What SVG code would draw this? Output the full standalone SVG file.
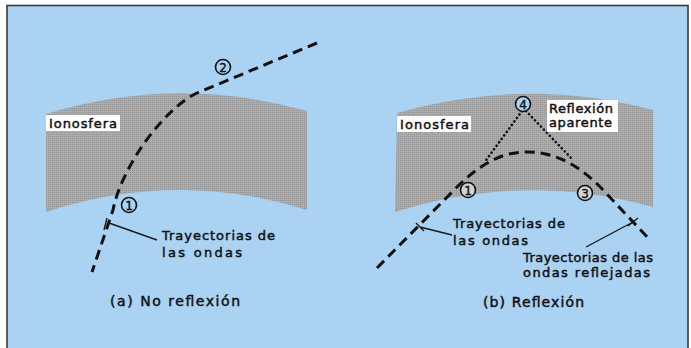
<svg xmlns="http://www.w3.org/2000/svg" width="691" height="348" viewBox="0 0 691 348">
<defs>
<pattern id="ht" width="2" height="2" patternUnits="userSpaceOnUse">
<rect width="2" height="2" fill="#adadad"/>
<rect width="1" height="1" fill="#929292"/>
</pattern>
<style>
.iono{fill:url(#ht);}
.wave{fill:none;stroke:#111;stroke-width:3;stroke-dasharray:10 6;}
.dot{fill:none;stroke:#111;stroke-width:2.6;stroke-dasharray:0.1 4.2;stroke-linecap:round;}
.lead{fill:none;stroke:#1a1a1a;stroke-width:1.4;}
.t{font-family:"DejaVu Sans","Liberation Sans",sans-serif;font-size:13px;fill:#111;stroke:#111;stroke-width:0.45;}
.cap{font-size:14px;}
.box{fill:#fff;}
.num{fill:#aad2f2;stroke:#111;stroke-width:1.6;}
.numg{fill:#d2d2d2;stroke:#111;stroke-width:1.6;}
.nt{font-family:"DejaVu Sans","Liberation Sans",sans-serif;font-size:12px;fill:#111;stroke:#111;stroke-width:0.4;text-anchor:middle;}
</style>
</defs>
<rect x="0" y="0" width="691" height="348" fill="#ffffff"/>
<rect id="frame" x="7" y="5.5" width="681" height="346" fill="#aad2f2" stroke="#3a3a3a" stroke-width="1.6"/>

<g id="iono-a">
<path class="iono" d="M46,114 Q176,74 307,111 L307,210 Q176,169 46,212 Z"/>
<rect class="box" x="46" y="115" width="74" height="16"/>
<text class="t" x="49" y="128" textLength="68" lengthAdjust="spacing">Ionosfera</text>
</g>

<g id="iono-b">
<path class="iono" d="M397,113 Q525,76 653,110 L653,207 Q524,171 395,212 Z"/>
<rect class="box" x="397" y="116" width="74" height="16"/>
<text class="t" x="400" y="129" textLength="69" lengthAdjust="spacing">Ionosfera</text>
</g>

<g id="connectors">
<path class="wave" d="M317,43 L197,93 C165,108 122,165 113,210 L92,272"/>
<path class="wave" d="M377,268 L458,186 C485,160 505,152 527,152 C555,152 580,165 605,192 L650,240"/>
<path class="dot" d="M522,111 L484,163"/>
<path class="dot" d="M526,111 L573,160"/>
<path class="lead" d="M109,223 L157,240 M107,218 L104,230"/>
<path class="lead" d="M420,227 L452,235 M416,223 L424,231"/>
<path class="lead" d="M633,222 L586,247 M628,226 L638,218"/>
</g>

<g id="n2"><circle class="num" cx="223" cy="67" r="7.5"/><text class="nt" x="223" y="71.5">2</text></g>
<g id="n1a"><circle class="num" cx="129" cy="205" r="7.5"/><text class="nt" x="129" y="209.5">1</text></g>
<g id="n1b"><circle class="numg" cx="468" cy="190" r="7.5"/><text class="nt" x="468" y="194.5">1</text></g>
<g id="n3"><circle class="numg" cx="585" cy="193" r="7.5"/><text class="nt" x="585" y="197.5">3</text></g>
<g id="n4"><circle class="num" cx="523" cy="104" r="7.5" stroke-width="2.2"/><text class="nt" x="523" y="108.5">4</text></g>

<g id="label-apparent">
<rect class="box" x="547" y="100" width="71" height="32"/>
<text class="t" x="549" y="113" textLength="64" lengthAdjust="spacing">Reflexión</text>
<text class="t" x="549" y="127" textLength="63" lengthAdjust="spacing">aparente</text>
</g>

<g id="label-a">
<text class="t" x="162" y="240" textLength="113" lengthAdjust="spacing">Trayectorias de</text>
<text class="t" x="162" y="257" textLength="80" lengthAdjust="spacing">las ondas</text>
<text class="t cap" x="110" y="306" textLength="130" lengthAdjust="spacing">(a) No reflexión</text>
</g>

<g id="label-b">
<text class="t" x="453" y="228" textLength="112" lengthAdjust="spacing">Trayectorias de</text>
<text class="t" x="453" y="245" textLength="75" lengthAdjust="spacing">las ondas</text>
<text class="t" x="523" y="262" textLength="130" lengthAdjust="spacing">Trayectorias de las</text>
<text class="t" x="523" y="277" textLength="127" lengthAdjust="spacing">ondas reflejadas</text>
<text class="t cap" x="483" y="307" textLength="101" lengthAdjust="spacing">(b) Reflexión</text>
</g>
</svg>
